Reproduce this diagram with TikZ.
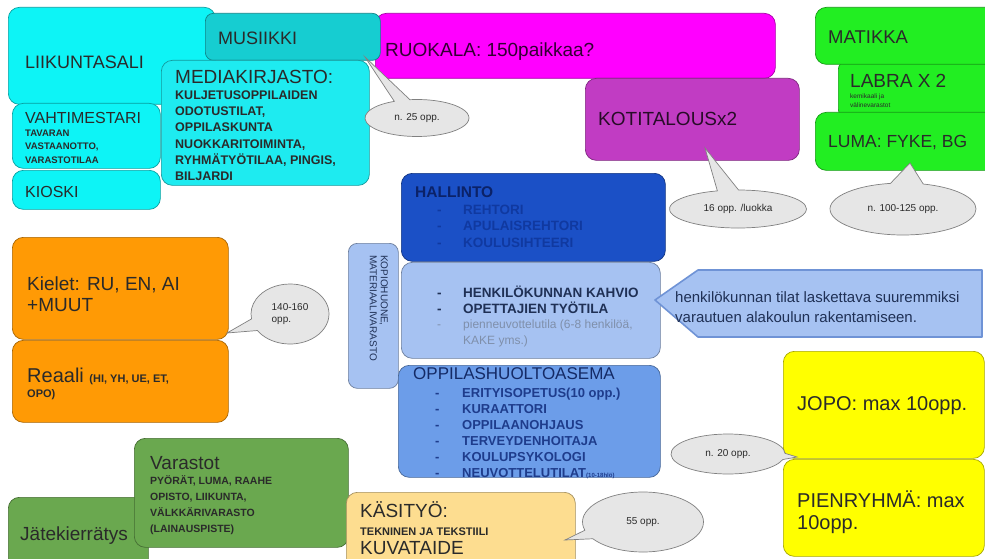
\documentclass[tikz,border=0pt]{standalone}
\usepackage{fontspec}
\setmainfont{Liberation Sans}
\usetikzlibrary{shapes.geometric,shapes.callouts,calc}

\newcommand\fsz[2]{\fontsize{#1}{#2}\selectfont}

\definecolor{cyanbox}{HTML}{0DF4F6}
\definecolor{musbox}{HTML}{16CDD1}
\definecolor{mediabox}{HTML}{1EEBF0}
\definecolor{magbox}{HTML}{FF00FF}
\definecolor{kotibox}{HTML}{C13CC3}
\definecolor{greenbox}{HTML}{22EE22}
\definecolor{hallbox}{HTML}{1B50C6}
\definecolor{kahvbox}{HTML}{A6C2F2}
\definecolor{oppbox}{HTML}{6C9DE9}
\definecolor{orangebox}{HTML}{FF9A05}
\definecolor{varbox}{HTML}{6AA84F}
\definecolor{yelbox}{HTML}{FFFF00}
\definecolor{kasbox}{HTML}{FDDD90}
\definecolor{bubble}{HTML}{E6E6E6}
\definecolor{ink}{HTML}{2A2A2A}
\definecolor{arrowedge}{HTML}{6F93D6}
\definecolor{hallink}{HTML}{0B2268}
\definecolor{hallitem}{HTML}{1039A0}
\definecolor{oppink}{HTML}{142A66}
\definecolor{oppitem}{HTML}{1E3C8C}
\definecolor{kahvink}{HTML}{1F3055}
\definecolor{kahvgray}{HTML}{7F8FAA}

% multi-line labels are placed by the baseline of their last line
\tikzset{
  room/.style={fill=#1, draw=#1!65!black, line width=0.7pt, rounded corners=11pt,
    anchor=north west, inner sep=0pt},
  lbl/.style={anchor=base west, inner sep=0pt, text=ink, align=left},
  bubblenote/.style={ellipse callout, fill=bubble, draw=black!50, line width=0.7pt,
    inner sep=0pt, font=\fsz{10}{12}, text=ink, align=left, callout pointer arc=18},
}

\begin{document}
\begin{tikzpicture}[x=1pt,y=-1pt]
\useasboundingbox[fill=white] (0,0) rectangle (985,559);
\clip (0,0) rectangle (985,559);

% ---------- sports hall, caretaker, kiosk ----------
\node[room=cyanbox, minimum width=207pt, minimum height=97pt] (liikunta) at (8,7) {};
\node[lbl, font=\fsz{18}{21}] (liikuntaT) at (25,68.5) {LIIKUNTASALI};
\node[room=cyanbox, minimum width=148pt, minimum height=65pt] (vahti) at (12,103) {};
\node[lbl, font=\fsz{16}{19}] (vahtiT) at (25,124) {VAHTIMESTARI};
\node[lbl, font=\bfseries\fsz{9.5}{13.5}] (vahtiS) at (25,163.5) {TAVARAN\\VASTAANOTTO,\\VARASTOTILAA};
\node[room=cyanbox, minimum width=148pt, minimum height=39pt] (kioski) at (12,170) {};
\node[lbl, font=\fsz{16}{19}] (kioskiT) at (25,197) {KIOSKI};

% ---------- dining hall, music, media library ----------
\node[room=magbox, minimum width=400pt, minimum height=65pt] (ruokala) at (375,13) {};
\node[lbl, font=\fsz{19}{22}, text=black!80!magbox] (ruokalaT) at (385,57) {RUOKALA: 150paikkaa?};
\node[room=musbox, minimum width=175pt, minimum height=47pt, rounded corners=8pt] (musiikki) at (205,13) {};
\node[lbl, font=\fsz{18}{21}] (musiikkiT) at (218,44.5) {MUSIIKKI};
\node[room=mediabox, minimum width=208pt, minimum height=125pt] (media) at (161,60) {};
\node[lbl, font=\fsz{19}{22}] (mediaT) at (175,84) {MEDIAKIRJASTO:};
\node[lbl, font=\bfseries\fsz{12.5}{16.2}] (mediaS) at (175,180.5)
  {KULJETUSOPPILAIDEN\\ODOTUSTILAT,\\OPPILASKUNTA\\NUOKKARITOIMINTA,\\RYHMÄTYÖTILAA, PINGIS,\\BILJARDI};

\coordinate (tipMus) at (365,57);
\node[bubblenote, minimum width=104pt, minimum height=37pt,
  callout absolute pointer={(tipMus)}] (noteMus) at (417,118) {n. 25 opp.};

% ---------- home economics ----------
\node[room=kotibox, minimum width=214pt, minimum height=82pt] (koti) at (585,78) {};
\node[lbl, font=\fsz{19}{22}, text=black!80!kotibox] (kotiT) at (598,126) {KOTITALOUSx2};
\coordinate (tipKoti) at (705,148);
\node[bubblenote, minimum width=137pt, minimum height=38pt,
  callout absolute pointer={(tipKoti)}] (noteKoti) at (738,209) {16 opp. /luokka};

% ---------- mathematics and science ----------
\node[room=greenbox, minimum width=160pt, minimum height=56pt, rounded corners=8pt] (labra) at (838,61) {};
\node[room=greenbox, minimum width=185pt, minimum height=57pt] (matikka) at (815,7) {};
\node[lbl, font=\fsz{18.5}{21}] (matikkaT) at (828,43.7) {MATIKKA};
\node[lbl, font=\fsz{19}{22}] (labraT) at (850,88) {LABRA X 2};
\node[lbl, font=\fsz{6.5}{9}] (labraS) at (850,108) {kemikaali ja\\välinevarastot};
\node[room=greenbox, minimum width=185pt, minimum height=58pt] (luma) at (815,112) {};
\node[lbl, font=\fsz{17.5}{20}] (lumaT) at (828,147.5) {LUMA: FYKE, BG};
\coordinate (tipLuma) at (910,163);
\node[bubblenote, minimum width=146pt, minimum height=52pt, callout pointer arc=26,
  callout absolute pointer={(tipLuma)}] (noteLuma) at (903,209) {n. 100-125 opp.};

% ---------- administration and staff ----------
\node[room=kahvbox, minimum width=50pt, minimum height=145pt, rounded corners=9pt] (kopio) at (348,243) {};
\node[anchor=north west, rotate=-90, inner sep=0pt, align=left, text=kahvink,
  font=\fsz{10}{11}] (kopioT) at (388,255) {KOPIOHUONE,\\MATERIAALIVARASTO};

\node[room=hallbox, minimum width=264pt, minimum height=88pt] (hallinto) at (401,173) {};
\node[lbl, font=\bfseries\fsz{15.5}{18}, text=hallink] (hallintoT) at (415,197.5) {HALLINTO};
\node[lbl, font=\bfseries\fsz{13.5}{16.8}, text=hallitem] (hallintoD) at (437,247.6) {-\\-\\-};
\node[lbl, font=\bfseries\fsz{13.5}{16.8}, text=hallitem] (hallintoS) at (463,247.6)
  {REHTORI\\APULAISREHTORI\\KOULUSIHTEERI};

\node[room=kahvbox, minimum width=259pt, minimum height=96pt] (kahvio) at (401,262) {};
\node[lbl, font=\bfseries\fsz{13.5}{16}, text=kahvink] (kahvioD) at (437,313) {-\\-};
\node[lbl, font=\bfseries\fsz{13.5}{16}, text=kahvink] (kahvioS) at (463,313)
  {HENKILÖKUNNAN KAHVIO\\OPETTAJIEN TYÖTILA};
\node[lbl, font=\fsz{12}{16}, text=kahvgray] (kahvioD2) at (437,328.5) {-};
\node[lbl, font=\fsz{12}{16}, text=kahvgray] (kahvioG) at (463,344.5)
  {pienneuvottelutila (6-8 henkilöä,\\KAKE yms.)};

% note box pointing at the staff rooms
\draw[fill=kahvbox, draw=arrowedge, line width=1.6pt, line join=round]
  (655,300) -- (698,270) -- (982,270) -- (982,337) -- (698,337) -- cycle;
\node[lbl, font=\fsz{15}{20}, text=kahvink] (noteStaff) at (675,322)
  {henkilökunnan tilat laskettava suuremmiksi\\varautuen alakoulun rakentamiseen.};

% ---------- student welfare ----------
\node[room=oppbox, minimum width=262pt, minimum height=112pt] (oppilas) at (398,365) {};
\node[lbl, font=\fsz{17}{20}, text=oppink] (oppilasT) at (413,379) {OPPILASHUOLTOASEMA};
\node[lbl, font=\bfseries\fsz{13}{16}, text=oppitem] (oppilasD) at (435,477.7) {-\\-\\-\\-\\-\\-};
\node[lbl, font=\bfseries\fsz{13}{16}, text=oppitem] (oppilasS) at (462,477.7)
  {ERITYISOPETUS(10 opp.)\\KURAATTORI\\OPPILAANOHJAUS\\TERVEYDENHOITAJA\\KOULUPSYKOLOGI\\NEUVOTTELUTILAT{\fsz{6}{6}(10-18hlö)}};

% ---------- languages and humanities ----------
\node[room=orangebox, minimum width=216pt, minimum height=102pt] (kielet) at (12,237) {};
\node[lbl, font=\fsz{19}{21}] (kieletT) at (27,311) {Kielet: RU, EN, AI\\+MUUT};
\node[room=orangebox, minimum width=216pt, minimum height=82pt] (reaali) at (12,340) {};
\node[lbl, font=\fsz{20}{15}] (reaaliT) at (27,397)
  {Reaali {\bfseries\fsz{11}{15}(HI, YH, UE, ET,}\\{\bfseries\fsz{11}{15}OPO)}};
\coordinate (tipKiel) at (227,333);
\node[bubblenote, minimum width=78pt, minimum height=60pt, callout pointer arc=24,
  callout absolute pointer={(tipKiel)}] (noteKiel) at (290,314) {140-160\\opp.};

% ---------- special groups ----------
\node[room=yelbox, minimum width=201pt, minimum height=107pt] (jopo) at (783,351) {};
\node[lbl, font=\fsz{20}{23}] (jopoT) at (797,410) {JOPO: max 10opp.};
\node[room=yelbox, minimum width=201pt, minimum height=97pt] (pienryhma) at (783,459) {};
\node[lbl, font=\fsz{20}{22}] (pienryhmaT) at (797,529) {PIENRYHMÄ: max\\10opp.};
\coordinate (tipJopo) at (797,457);
\node[bubblenote, minimum width=114pt, minimum height=40pt,
  callout absolute pointer={(tipJopo)}] (noteJopo) at (728,454) {n. 20 opp.};

% ---------- storage, recycling, crafts ----------
\node[room=varbox, minimum width=140pt, minimum height=80pt] (jate) at (8,497) {};
\node[lbl, font=\fsz{19}{22}] (jateT) at (20,540) {Jätekierrätys};
\node[room=varbox, minimum width=214pt, minimum height=109pt] (varastot) at (134,438) {};
\node[lbl, font=\fsz{19}{22}] (varastotT) at (150,469) {Varastot};
\node[lbl, font=\bfseries\fsz{10.5}{16}] (varastotS) at (150,532)
  {PYÖRÄT, LUMA, RAAHE\\OPISTO, LIIKUNTA,\\VÄLKKÄRIVARASTO\\(LAINAUSPISTE)};
\node[room=kasbox, minimum width=229pt, minimum height=80pt] (kasityo) at (346,492) {};
\node[lbl, font=\fsz{19}{22}] (kasityoT) at (360,517) {KÄSITYÖ:};
\node[lbl, font=\bfseries\fsz{11}{14}] (kasityoS) at (360,535) {TEKNINEN JA TEKSTIILI};
\node[lbl, font=\fsz{19}{22}] (kasityoK) at (360,554) {KUVATAIDE};
\coordinate (tipKas) at (565,540);
\node[bubblenote, minimum width=121pt, minimum height=60pt,
  callout absolute pointer={(tipKas)}] (noteKas) at (643,522) {55 opp.};
\end{tikzpicture}
\end{document}
